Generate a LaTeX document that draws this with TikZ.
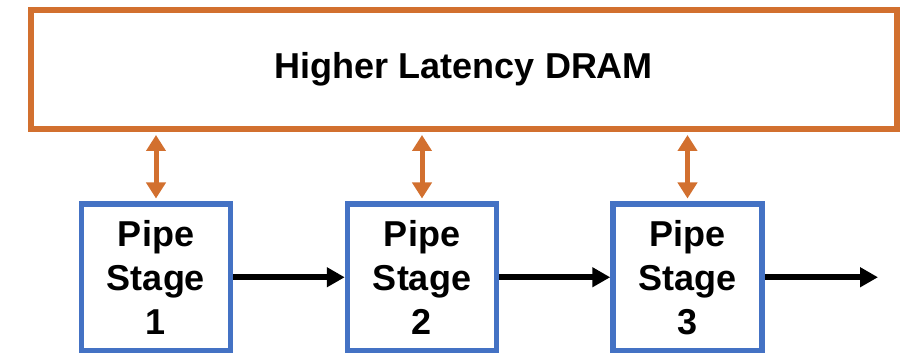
\documentclass[tikz,border=0pt]{standalone}
\usepackage{fontspec}
\setmainfont{Liberation Sans}
\usetikzlibrary{arrows.meta}
\definecolor{dramorange}{HTML}{D2702F}
\definecolor{stageblue}{HTML}{4472C4}
\begin{document}
\begin{tikzpicture}[x=1pt,y=-1pt,
  dram/.style={draw=dramorange,line width=6pt,rectangle,inner sep=0pt,minimum width=866pt,minimum height=119pt,font=\fontsize{36}{44}\selectfont\bfseries},
  stagebox/.style={draw=stageblue,line width=5.5pt,rectangle,inner sep=0pt,minimum width=149pt,minimum height=146.5pt,align=center,font=\fontsize{36}{44}\selectfont\bfseries},
  memlink/.style={draw=dramorange,line width=5pt,{Triangle[length=16pt,width=19pt]}-{Triangle[length=16pt,width=19pt]},shorten <=3pt,shorten >=2.75pt},
  flow/.style={draw=black,line width=5.5pt,-{Triangle[length=18pt,width=19pt]}}
]
\useasboundingbox (0,0) rectangle (907,355);
\node[dram] (dram) at (464,69.5) {Higher Latency DRAM};
\node[stagebox] (p1) at (156,277.25) {Pipe\\Stage\\1};
\node[stagebox] (p2) at (422,277.25) {Pipe\\Stage\\2};
\node[stagebox] (p3) at (687.5,277.25) {Pipe\\Stage\\3};
\coordinate (out) at (878,277.25);
\foreach \p in {p1,p2,p3}{
  \draw[memlink] (dram.south -| \p.north) -- (\p.north);
}
\draw[flow] (p1.east) -- (p2.west);
\draw[flow] (p2.east) -- (p3.west);
\draw[flow] (p3.east) -- (out);
\end{tikzpicture}
\end{document}
